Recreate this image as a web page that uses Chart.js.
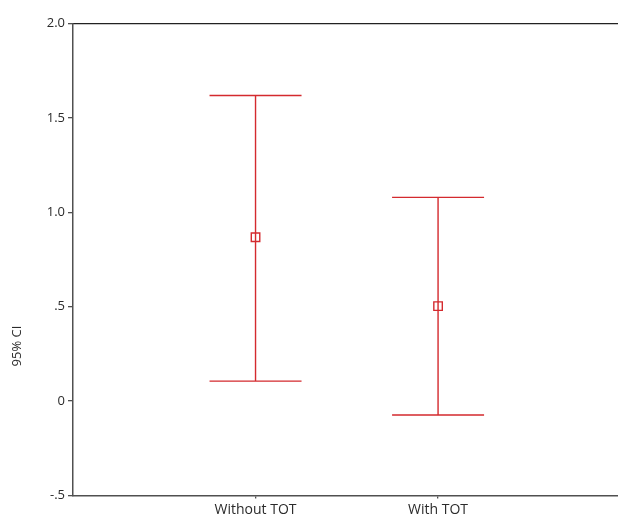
<!DOCTYPE html>
<html>
<head>
<meta charset="utf-8">
<script src="https://cdn.jsdelivr.net/npm/chart.js@4"></script>
<style>
  html, body { margin: 0; padding: 0; background: #fff; overflow: hidden; }
  #wrap { width: 628px; height: 518px; }
</style>
</head>
<body>
<div id="wrap"><canvas id="ciChart"></canvas></div>
<script>
// groups and their 95% CI (mean, lower, upper)
const groups = ['Without TOT', 'With TOT'];
const groupPos = [1, 2];
const means = [0.868, 0.503];
const lowers = [0.106, -0.074];
const uppers = [1.619, 1.079];
const yTicks = [-0.5, 0, 0.5, 1.0, 1.5, 2.0];
const yTickLabels = ['-.5', '0', '.5', '1.0', '1.5', '2.0'];

const RED = '#d42a2e';
const AXIS = '#505050';
const TEXT = '#2b2b2b';
const FONT = '"Open Sans", Lato, sans-serif';

// draws the whiskers and caps from the data, through the chart's scales
const errorBars = {
  id: 'errorBars',
  afterDatasetsDraw(chart) {
    const { ctx, scales: { x, y } } = chart;
    ctx.save();
    ctx.strokeStyle = RED;
    ctx.lineWidth = 1.4;
    groupPos.forEach((pos, i) => {
      const px = x.getPixelForValue(pos);
      const top = y.getPixelForValue(uppers[i]);
      const bot = y.getPixelForValue(lowers[i]);
      ctx.beginPath();
      ctx.moveTo(px, top); ctx.lineTo(px, bot);
      ctx.moveTo(px - 46, top); ctx.lineTo(px + 46, top);
      ctx.moveTo(px - 46, bot); ctx.lineTo(px + 46, bot);
      ctx.stroke();
    });
    ctx.restore();
  },
  afterDraw(chart) {
    // axis title sits low on the left, as in the original
    const { ctx } = chart;
    ctx.save();
    ctx.translate(17, 346);
    ctx.rotate(-Math.PI / 2);
    ctx.fillStyle = TEXT;
    ctx.font = '13px ' + FONT;
    ctx.textAlign = 'center';
    ctx.textBaseline = 'middle';
    ctx.fillText('95% CI', 0, 0);
    ctx.restore();
  }
};

new Chart(document.getElementById('ciChart'), {
  type: 'scatter',
  data: {
    datasets: [{
      data: groupPos.map((p, i) => ({ x: p, y: means[i] })),
      pointStyle: 'rect',
      pointRadius: 6,
      pointHoverRadius: 6,
      pointBorderWidth: 1.4,
      borderColor: RED,
      backgroundColor: 'rgba(255,255,255,0)'
    }]
  },
  options: {
    responsive: true,
    maintainAspectRatio: false,
    animation: false,
    layout: { padding: 0 },
    plugins: { legend: { display: false }, tooltip: { enabled: false } },
    scales: {
      x: {
        type: 'linear',
        position: 'bottom',
        min: 0,
        max: 3,
        afterBuildTicks: (s) => { s.ticks = groupPos.map(v => ({ value: v })); },
        afterFit: (s) => { s.height = 22.5; },
        ticks: {
          callback: (v) => groups[groupPos.indexOf(v)] || '',
          color: TEXT,
          font: { family: FONT, size: 14 },
          padding: 3,
          maxRotation: 0
        },
        grid: { drawOnChartArea: false, drawTicks: true, tickLength: 3, color: AXIS, lineWidth: 1.3 },
        border: { display: true, color: AXIS, width: 1.5 }
      },
      xTop: {
        type: 'linear',
        position: 'top',
        min: 0,
        max: 3,
        afterFit: (s) => { s.height = 23.5; },
        ticks: { display: false },
        grid: { display: false },
        border: { display: true, color: '#222', width: 1.3 }
      },
      y: {
        min: -0.5,
        max: 2.0,
        afterBuildTicks: (s) => { s.ticks = yTicks.map(v => ({ value: v })); },
        afterFit: (s) => { s.width = 73; },
        ticks: {
          callback: (v) => yTickLabels[yTicks.indexOf(v)],
          color: TEXT,
          font: { family: FONT, size: 13 },
          padding: 3
        },
        grid: { drawOnChartArea: false, drawTicks: true, tickLength: 5, color: AXIS, lineWidth: 1.3 },
        border: { display: true, color: AXIS, width: 1.5 }
      }
    }
  },
  plugins: [errorBars]
});
</script>
</body>
</html>
